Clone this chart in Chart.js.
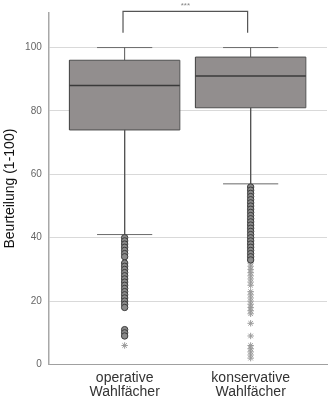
<!DOCTYPE html>
<html><head><meta charset="utf-8">
<script src="https://cdn.jsdelivr.net/npm/chart.js@4/dist/chart.umd.min.js"></script>
<style>html,body{margin:0;padding:0;background:#fff;overflow:hidden}#wrap{width:332px;height:399px;position:relative}</style>
</head><body><div id="wrap"><canvas id="c"></canvas></div>
<script>
// ---- data ----
const categories = [['operative', 'Wahlfächer'], ['konservative', 'Wahlfächer']];
const q1 = [74, 81];
const median = [88, 91];
const q3 = [96, 97];
const whiskerLow = [41, 57];
const whiskerHigh = [100, 100];
const outliersOperative = [40, 39, 38, 37, 36, 35, 34, 32, 31, 30, 29, 28, 27, 26, 25, 24, 23, 22, 21, 20, 19, 18, 11, 10, 9];
const extremesOperative = [6];
const outliersKonservative = [56, 55, 54, 53, 52, 51, 50, 49, 48, 47, 46, 45, 44, 43, 42, 41, 40, 39, 38, 37, 36, 35, 34, 33];
const extremesKonservative = [32, 31, 30, 29, 28, 27, 26, 25, 23, 22, 21, 20, 19, 18, 17, 16, 13, 9, 6, 5, 4, 3, 2];
const yTicks = [0, 20, 40, 60, 80, 100];
const significanceLabel = '***';
const bracketTop = 111.4;
const bracketFoot = 104.7;

// ---- layout/style constants ----
const FONT = 'Liberation Sans, Arial, Helvetica, sans-serif';
const boxHalf = 0.438, capHalf = 0.219;
const bracketLeft = 0.987, bracketRight = 1.976;

const datasets = [];
function seg(pts, color, width, extra) {
  datasets.push(Object.assign({
    type: 'line', data: pts, borderColor: color, borderWidth: width,
    pointRadius: 0, fill: false, order: 5, clip: false, tension: 0
  }, extra || {}));
}
categories.forEach((c, i) => {
  const x = i + 1;
  // box body (filled from Q3 down to Q1)
  seg([{x: x - boxHalf, y: q3[i]}, {x: x + boxHalf, y: q3[i]}], 'rgba(0,0,0,0)', 0,
      {fill: {value: q1[i]}, backgroundColor: '#928e8e', order: 10});
  // box outline
  seg([{x: x - boxHalf, y: q1[i]}, {x: x + boxHalf, y: q1[i]}, {x: x + boxHalf, y: q3[i]},
       {x: x - boxHalf, y: q3[i]}, {x: x - boxHalf, y: q1[i]}], '#4e4e4e', 1, {order: 9});
  seg([{x, y: q3[i]}, {x, y: whiskerHigh[i]}], '#555', 1);
  seg([{x, y: q1[i]}, {x, y: whiskerLow[i]}], '#555', 1);
  seg([{x: x - capHalf, y: whiskerHigh[i]}, {x: x + capHalf, y: whiskerHigh[i]}], '#6a6a6a', 1);
  seg([{x: x - capHalf, y: whiskerLow[i]}, {x: x + capHalf, y: whiskerLow[i]}], '#6a6a6a', 1);
  seg([{x: x - boxHalf, y: median[i]}, {x: x + boxHalf, y: median[i]}], '#3a3a3a', 1.5);
});
seg([{x: bracketLeft, y: bracketFoot}, {x: bracketLeft, y: bracketTop}, {x: bracketRight, y: bracketTop}, {x: bracketRight, y: bracketFoot}], '#555', 1.2);

const outliers = [outliersOperative, outliersKonservative];
const extremes = [extremesOperative, extremesKonservative];
outliers.forEach((arr, i) => datasets.push({
  type: 'scatter', data: arr.map(v => ({x: i + 1, y: v})),
  pointStyle: 'circle', pointRadius: 3.2, pointBackgroundColor: '#8a8a8a',
  pointBorderColor: '#3c3c3c', pointBorderWidth: 1, order: 1
}));
extremes.forEach((arr, i) => datasets.push({
  type: 'scatter', data: arr.map(v => ({x: i + 1, y: v})),
  pointStyle: 'star', pointRadius: 3.2, pointBackgroundColor: '#9a9a9a',
  pointBorderColor: '#9a9a9a', pointBorderWidth: 1, order: 1
}));

const sigPlugin = {
  id: 'sig',
  afterDatasetsDraw(chart) {
    const {ctx, scales: {x, y}} = chart;
    ctx.save();
    ctx.fillStyle = '#888';
    ctx.font = '8px ' + FONT;
    ctx.textAlign = 'center';
    ctx.textBaseline = 'bottom';
    ctx.fillText(significanceLabel, x.getPixelForValue((bracketLeft + bracketRight) / 2), y.getPixelForValue(bracketTop) - 2);
    ctx.restore();
  }
};

new Chart(document.getElementById('c'), {
  type: 'scatter',
  data: {datasets},
  plugins: [sigPlugin],
  options: {
    responsive: true, maintainAspectRatio: false, animation: false, events: [],
    layout: {padding: {top: 12.7, right: 1, left: 0, bottom: 0}},
    plugins: {legend: {display: false}, tooltip: {enabled: false}},
    scales: {
      x: {
        type: 'linear', min: 0.394, max: 2.606, offset: false,
        afterBuildTicks: s => { s.ticks = categories.map((c, i) => ({value: i + 1})); },
        afterFit: s => { s.height = 34.5; s.paddingLeft = 0; s.paddingRight = 0; },
        grid: {display: false, drawTicks: false, offset: false},
        border: {display: true, color: '#a0a0a0', width: 1},
        ticks: {
          callback: v => categories[Math.round(v) - 1] || '',
          font: {family: FONT, size: 14, lineHeight: 1.0},
          color: '#333', padding: 6.5, maxRotation: 0, autoSkip: false
        }
      },
      y: {
        type: 'linear', min: 0, max: 111,
        afterBuildTicks: s => { s.ticks = yTicks.map(v => ({value: v})); },
        afterFit: s => { s.width = 48.3; },
        grid: {color: '#d9d9d9', lineWidth: 1, drawTicks: false},
        border: {display: true, color: '#a8a8a8', width: 1.5},
        ticks: {font: {family: FONT, size: 10}, color: '#666', padding: 6.5},
        title: {display: true, text: 'Beurteilung (1-100)', font: {family: FONT, size: 14}, color: '#111', padding: {top: 2, bottom: 6}}
      }
    }
  }
});
</script></body></html>
